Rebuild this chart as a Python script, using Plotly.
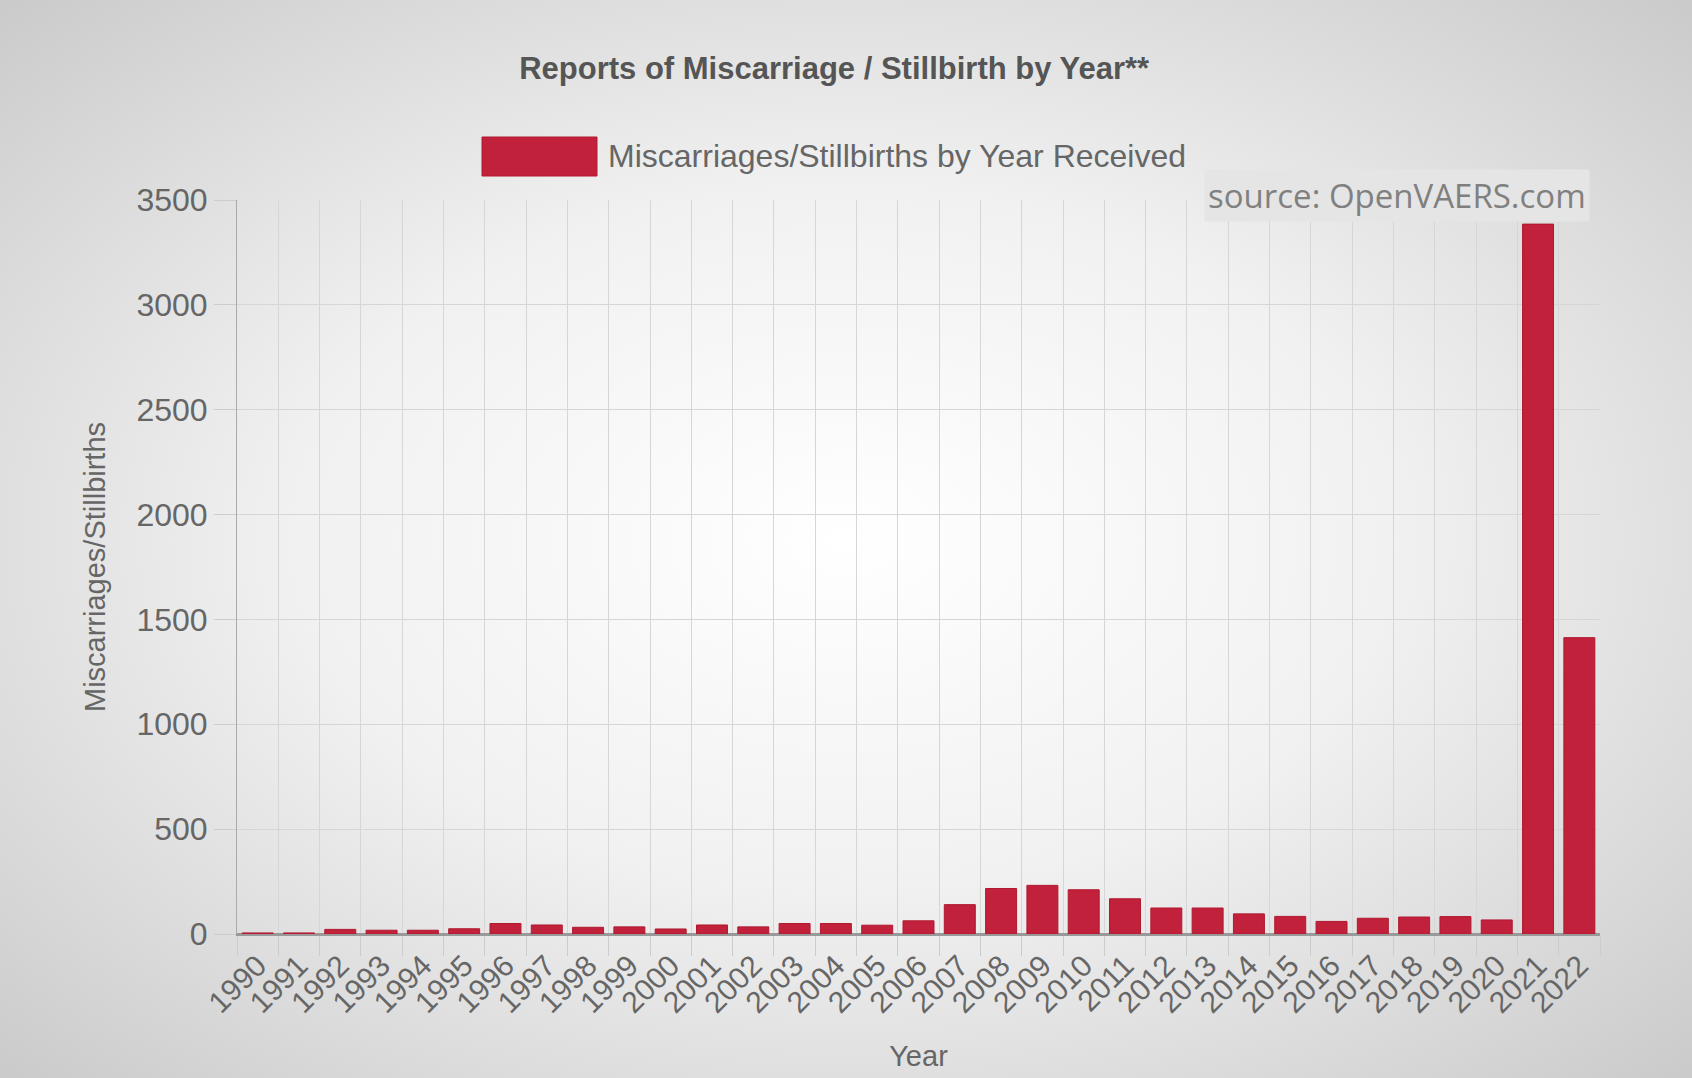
import base64
import plotly.graph_objects as go

years = [str(y) for y in range(1990, 2023)]
reports = [5, 5, 22, 18, 18, 25, 50, 43, 32, 34, 24, 43, 34, 50, 50, 42, 63,
           140, 217, 232, 211, 168, 124, 124, 96, 84, 60, 75, 81, 83, 67,
           3385, 1413]

series_name = 'Miscarriages/Stillbirths by Year Received'
title_text = 'Reports of Miscarriage / Stillbirth by Year**'
source_text = 'source: OpenVAERS.com'

W, H = 1692, 1078
L, R, T, B = 237, 92, 200, 144
pw, ph = W - L - R, H - T - B

# radial grey background like the original screenshot
svg = (
    "<svg xmlns='http://www.w3.org/2000/svg' width='1692' height='1078' "
    "preserveAspectRatio='none'><defs><radialGradient id='g' cx='0.5' cy='0.5' r='0.72'>"
    "<stop offset='0' stop-color='#ffffff'/><stop offset='0.45' stop-color='#f1f1f1'/>"
    "<stop offset='1' stop-color='#c9c9c9'/></radialGradient></defs>"
    "<rect width='100%' height='100%' fill='url(#g)'/></svg>"
)
bg_src = 'data:image/svg+xml;base64,' + base64.b64encode(svg.encode()).decode()

fig = go.Figure()
fig.add_trace(go.Bar(
    x=years, y=reports, name=series_name,
    marker=dict(color='#c1213a', line=dict(color='#b01a30', width=1)),
    showlegend=False,
))

fig.update_layout(
    width=W, height=H,
    margin=dict(l=L, r=R, t=T, b=B),
    paper_bgcolor='#e8e8e8',
    plot_bgcolor='rgba(0,0,0,0)',
    font=dict(family='Liberation Sans, Arial, sans-serif', color='#666666'),
    bargap=0.25,
    title=dict(text='<b>' + title_text + '</b>', x=0.493, xanchor='center',
               y=1 - 68 / H, yanchor='middle',
               font=dict(size=31, color='#555555')),
    images=[dict(source=bg_src, xref='paper', yref='paper',
                 x=-L / pw, y=1 + T / ph, sizex=W / pw, sizey=H / ph,
                 xanchor='left', yanchor='top', sizing='stretch', layer='below')],
)

fig.update_xaxes(
    type='category', tickson='boundaries', ticks='outside', ticklen=20,
    tickcolor='#cccccc', showgrid=True, gridcolor='#d6d6d6', gridwidth=1,
    tickangle=-45, tickfont=dict(size=30, color='#666666'),
    showline=True, linecolor='#999999', linewidth=2,
    title=dict(text='Year', font=dict(size=29, color='#666666'), standoff=28),
)
fig.update_yaxes(
    range=[0, 3500], dtick=500, ticks='outside', ticklen=22, tickcolor='#cccccc',
    showgrid=True, gridcolor='#d6d6d6', gridwidth=1,
    zeroline=True, zerolinecolor='#999999', zerolinewidth=2,
    showline=True, linecolor='#aaaaaa', linewidth=1,
    tickfont=dict(size=32, color='#666666'),
    title=dict(text='Miscarriages/Stillbirths', font=dict(size=29, color='#666666'),
               standoff=22),
)

# legend drawn by hand (wide swatch as in the original)
fig.add_shape(type='rect', xref='paper', yref='paper',
              x0=(482 - L) / pw, x1=(597 - L) / pw,
              y0=(H - B - 176) / ph, y1=(H - B - 137) / ph,
              fillcolor='#c1213a', line=dict(color='#b01a30', width=1))
fig.add_annotation(text=series_name, xref='paper', yref='paper',
                   x=(606 - L) / pw, y=(H - B - 156) / ph,
                   xanchor='left', yanchor='middle', showarrow=False,
                   font=dict(size=32, color='#666666'))

fig.add_annotation(text=source_text, xref='paper', yref='paper',
                   x=(1590 - L) / pw, y=(H - B - 196) / ph,
                   xanchor='right', yanchor='middle', showarrow=False,
                   bgcolor='#e5e5e5', borderpad=3,
                   font=dict(family='Open Sans, sans-serif', size=33, color='#808080'))

# drop the page margin so the figure fills the window exactly
fig.write_html('out.html', config={'displayModeBar': False},
               post_script="document.body.style.margin='0';document.body.style.overflow='hidden';")
